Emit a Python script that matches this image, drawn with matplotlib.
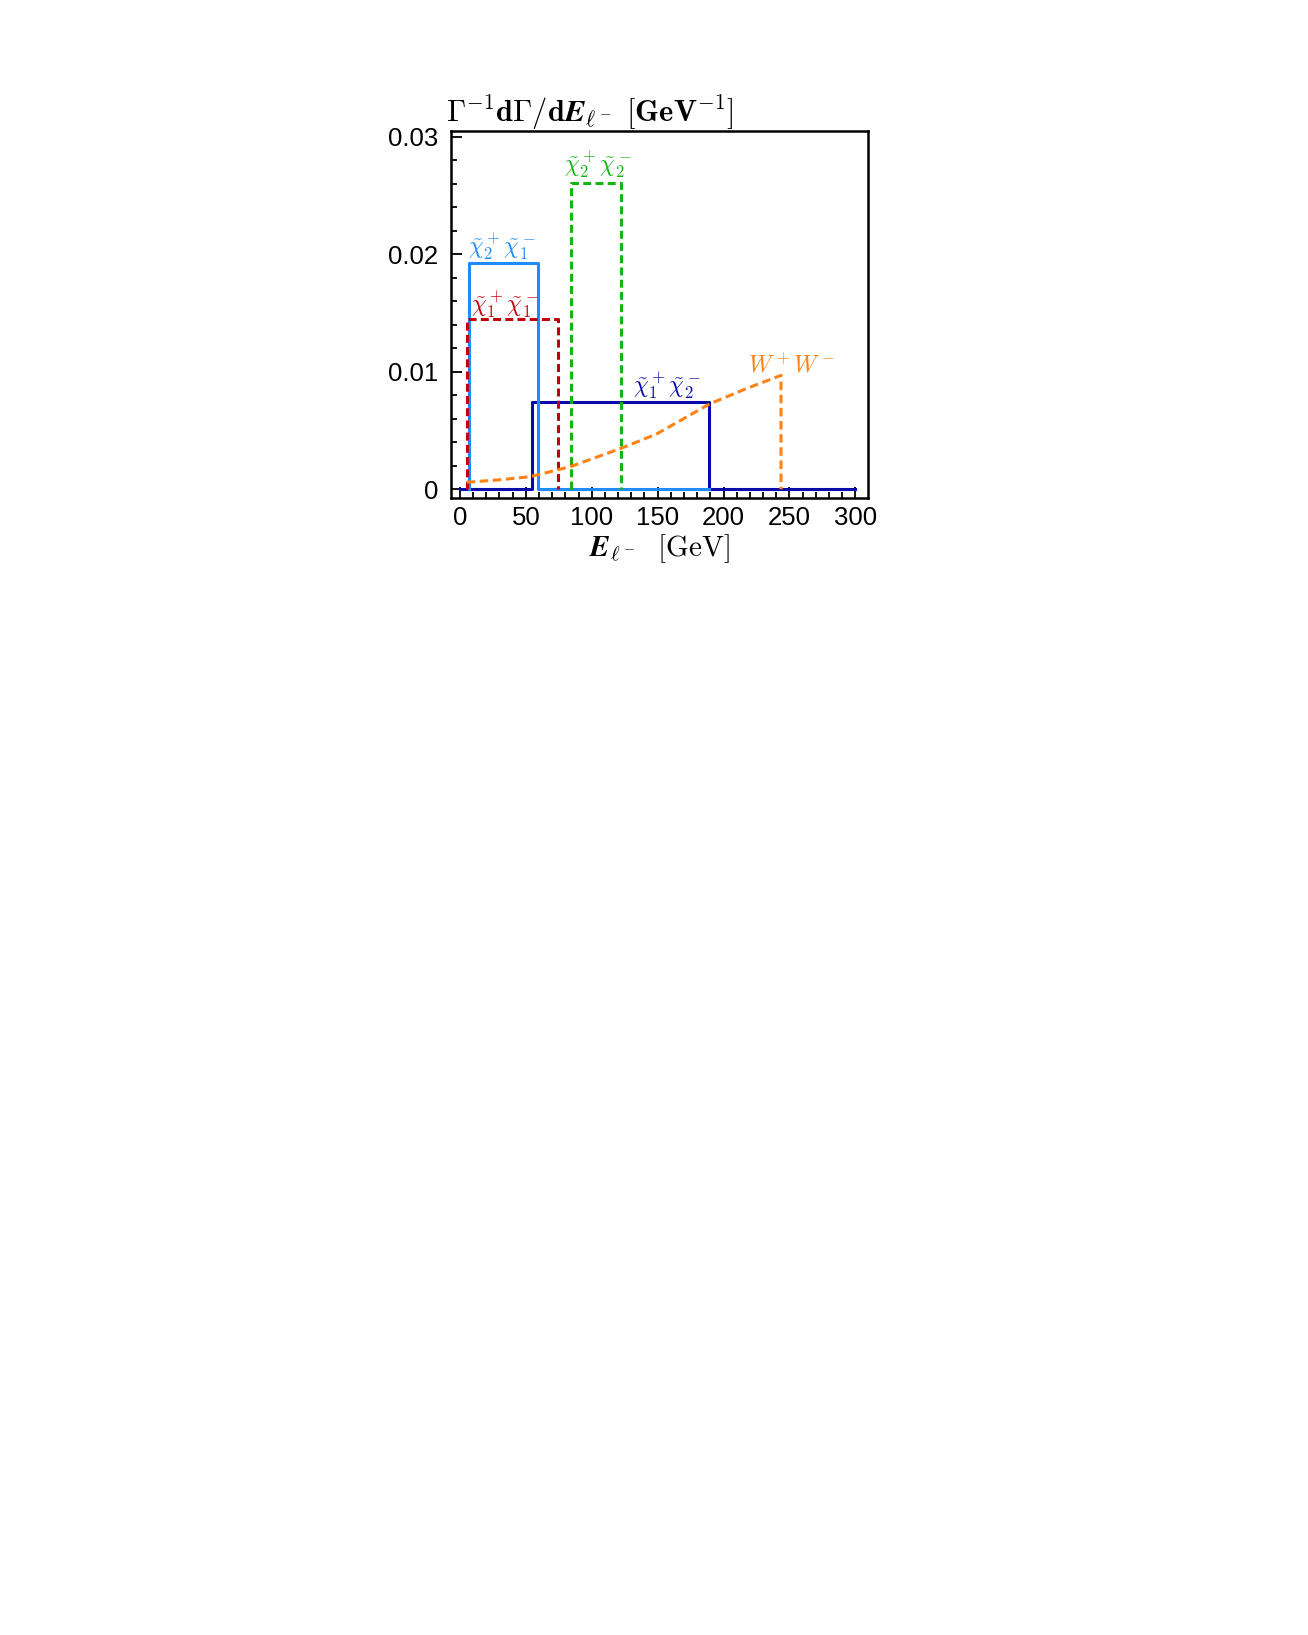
import matplotlib
matplotlib.use('Agg')
import matplotlib.pyplot as plt
from matplotlib.ticker import MultipleLocator

plt.rcParams['font.family'] = ['Liberation Sans', 'DejaVu Sans']
plt.rcParams['mathtext.fontset'] = 'cm'

# box distributions: (low edge, high edge, height)
names = ['c2c1', 'c1c1', 'c2c2', 'c1c2']
lows = [6.8, 5.1, 84.0, 54.4]
highs = [59.0, 74.6, 122.0, 189.0]
heights = [0.01925, 0.01453, 0.02608, 0.00742]
labels = [r'$\tilde{\chi}_2^+\tilde{\chi}_1^-$', r'$\tilde{\chi}_1^+\tilde{\chi}_1^-$',
          r'$\tilde{\chi}_2^+\tilde{\chi}_2^-$', r'$\tilde{\chi}_1^+\tilde{\chi}_2^-$']
label_x = [32.2, 34.0, 105.0, 156.8]
label_y = [0.0206, 0.01566, 0.02755, 0.00872]
colors = ['#1E8CFF', '#C0000C', '#14B414', '#0A0AAA']
styles = ['-', '--', '--', '-']

# W+W- spectrum
ww_x = [5, 27.8, 53, 83.5, 122, 149, 190, 217.5, 243.6]
ww_y = [0.0006, 0.00079, 0.00107, 0.00192, 0.00348, 0.0047, 0.0073, 0.00858, 0.0097]

fig = plt.figure(figsize=(13.08, 16.35), dpi=100)
ax = fig.add_axes([0.3448, 0.6954, 0.3188, 0.2245])

# dark blue first (baseline over full range), then others
ax.plot([0, lows[3], lows[3], highs[3], highs[3], 300],
        [0, 0, heights[3], heights[3], 0, 0], color=colors[3], lw=2.2, zorder=2)
ax.plot([lows[0], lows[0], highs[0], highs[0], highs[3]],
        [0, heights[0], heights[0], 0, 0], color=colors[0], lw=2.2, zorder=3)
for i in (1, 2):
    ax.plot([lows[i], lows[i], highs[i], highs[i]],
            [0, heights[i], heights[i], 0], color=colors[i], lw=2.2,
            ls=styles[i], dashes=(2.6, 1.4), zorder=4)
ax.plot(ww_x + [ww_x[-1]], ww_y + [0], color='#FF8214', lw=2.2,
        dashes=(2.8, 1.5), zorder=4)

for i in range(4):
    ax.text(label_x[i], label_y[i], labels[i], color=colors[i], fontsize=17,
            ha='center', va='center')
ax.text(251.6, 0.01056, r'$W^+W^-$', color='#FF8214', fontsize=17,
        ha='center', va='center')

ax.set_xlim(-6.8, 309.6)
ax.set_ylim(-0.00074, 0.0305)
ax.xaxis.set_major_locator(MultipleLocator(50))
ax.xaxis.set_minor_locator(MultipleLocator(10))
ax.yaxis.set_major_locator(MultipleLocator(0.01))
ax.yaxis.set_minor_locator(MultipleLocator(0.002))
ax.set_yticks([0, 0.01, 0.02, 0.03])
ax.set_yticklabels(['0', '0.01', '0.02', '0.03'])
ax.tick_params(which='both', direction='in', top=False, right=False,
               labelsize=18.5, width=1.3)
ax.tick_params(which='major', length=8)
ax.tick_params(which='minor', length=4)
ax.tick_params(axis='y', pad=9)
ax.tick_params(axis='x', pad=6)
for s in ax.spines.values():
    s.set_linewidth(1.8)

ax.set_xlabel(r'$\boldsymbol{E}_{\ell^-}\ \ [\mathrm{GeV}]$', fontsize=21, labelpad=1)
fig.text(446 / 1308, 1 - 122 / 1635,
         r'$\boldsymbol{\Gamma}^{\mathbf{-1}}\mathbf{d}\boldsymbol{\Gamma}\mathbf{/d}'
         r'\boldsymbol{E}_{\ell^-}\ \mathbf{[GeV^{-1}]}$',
         fontsize=22, ha='left', va='baseline')

fig.savefig('out.png', dpi=100, facecolor='white')
